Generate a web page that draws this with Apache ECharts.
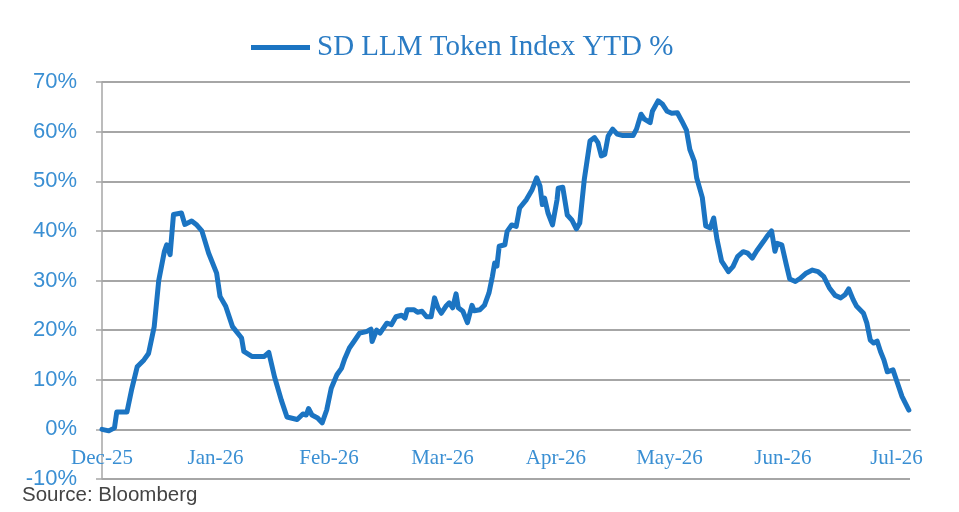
<!DOCTYPE html>
<html>
<head>
<meta charset="utf-8">
<script src="https://cdn.jsdelivr.net/npm/echarts@6/dist/echarts.min.js"></script>
<style>
  html, body { margin: 0; padding: 0; background: #ffffff; }
  #chart { width: 959px; height: 512px; }
</style>
</head>
<body>
<div id="chart"></div>
<script>
// X: months elapsed since the Dec-25 tick; Y: YTD % return
const monthLabels = ['Dec-25', 'Jan-26', 'Feb-26', 'Mar-26', 'Apr-26', 'May-26', 'Jun-26', 'Jul-26'];
const yTicks = [-10, 0, 10, 20, 30, 40, 50, 60, 70];
const seriesName = 'SD LLM Token Index YTD %';
const sourceNote = 'Source: Bloomberg';

const monthsElapsed = [
  0, 0.06, 0.11, 0.13, 0.22, 0.26, 0.31, 0.37, 0.41, 0.46,
  0.50, 0.55, 0.57, 0.60, 0.63, 0.70, 0.73, 0.79, 0.83, 0.88,
  0.94, 1.01, 1.04, 1.09, 1.15, 1.23, 1.25, 1.32, 1.43, 1.47,
  1.52, 1.58, 1.63, 1.72, 1.77, 1.80, 1.82, 1.85, 1.90, 1.94,
  1.98, 2.02, 2.07, 2.11, 2.14, 2.18, 2.22, 2.27, 2.33, 2.37,
  2.38, 2.42, 2.45, 2.51, 2.55, 2.59, 2.64, 2.67, 2.69, 2.75,
  2.78, 2.82, 2.86, 2.90, 2.93, 2.96, 2.99, 3.03, 3.06, 3.09,
  3.12, 3.14, 3.18, 3.22, 3.26, 3.28, 3.33, 3.37, 3.41, 3.44,
  3.46, 3.48, 3.50, 3.55, 3.57, 3.61, 3.65, 3.68, 3.74, 3.79,
  3.83, 3.86, 3.88, 3.90, 3.93, 3.97, 4.01, 4.02, 4.06, 4.10,
  4.14, 4.18, 4.21, 4.25, 4.30, 4.34, 4.37, 4.40, 4.43, 4.46,
  4.50, 4.54, 4.59, 4.68, 4.71, 4.75, 4.78, 4.83, 4.85, 4.90,
  4.94, 4.98, 5.02, 5.07, 5.11, 5.15, 5.18, 5.22, 5.24, 5.27,
  5.29, 5.32, 5.36, 5.39, 5.42, 5.46, 5.52, 5.56, 5.60, 5.65,
  5.69, 5.73, 5.77, 5.83, 5.86, 5.90, 5.93, 5.95, 5.99, 6.03,
  6.06, 6.11, 6.15, 6.20, 6.26, 6.31, 6.36, 6.41, 6.46, 6.51,
  6.55, 6.58, 6.62, 6.65, 6.71, 6.74, 6.77, 6.80, 6.83, 6.86,
  6.89, 6.92, 6.97, 7.01, 7.05, 7.11
];

const ytdPct = [
  0, -0.3, 0.3, 3.5, 3.5, 7.9, 12.6, 14.0, 15.3, 20.7,
  30.0, 35.9, 37.2, 35.2, 43.3, 43.6, 41.3, 42.0, 41.3, 40.0,
  35.5, 31.5, 26.8, 24.8, 20.7, 18.4, 15.7, 14.7, 14.7, 15.5,
  10.6, 5.9, 2.5, 2.0, 3.1, 2.9, 4.2, 2.9, 2.3, 1.3,
  3.9, 8.3, 11.0, 12.3, 14.3, 16.4, 17.7, 19.4, 19.7, 20.2,
  17.7, 20.0, 19.4, 21.4, 21.1, 22.7, 23.0, 22.4, 24.1, 24.1,
  23.6, 23.8, 22.7, 22.7, 26.5, 24.5, 23.4, 24.8, 25.5, 24.5,
  27.3, 24.5, 23.8, 21.5, 25.0, 23.9, 24.1, 25.0, 27.5, 30.8,
  33.5, 32.9, 36.9, 37.2, 39.9, 41.2, 40.9, 44.6, 46.3, 48.3,
  50.7, 49.0, 45.3, 46.6, 43.6, 41.2, 46.3, 48.6, 48.8, 43.2,
  42.2, 40.4, 41.6, 50.4, 58.1, 58.8, 57.8, 55.1, 55.4, 59.1,
  60.5, 59.5, 59.2, 59.2, 60.5, 63.5, 62.5, 61.8, 64.1, 66.2,
  65.5, 64.1, 63.7, 63.8, 62.1, 60.3, 56.4, 54.0, 50.7, 48.3,
  46.7, 41.0, 40.6, 42.6, 38.2, 33.9, 31.8, 32.8, 34.8, 35.8,
  35.5, 34.5, 36.0, 37.9, 38.9, 40.0, 35.9, 37.5, 37.2, 33.2,
  30.3, 29.8, 30.4, 31.4, 32.1, 31.8, 30.8, 28.5, 27.0, 26.5,
  27.2, 28.3, 26.1, 24.8, 23.4, 21.4, 18.0, 17.4, 17.8, 15.7,
  14.0, 11.6, 12.0, 9.3, 6.6, 3.9
];

const points = monthsElapsed.map((m, i) => [m, ytdPct[i]]);

const lineColor = '#1b74c2';
const labelBlue = '#3a8fd3';
const gridGray = '#a6a6a6';

const gridTop = 82, gridBottom = 33, chartHeight = 512;
const yMin = yTicks[0], yMax = yTicks[yTicks.length - 1];
// x axis sits on the 0% line: shift it up from the bottom edge by the axis scale
const plotHeight = chartHeight - gridTop - gridBottom;
const zeroOffset = -plotHeight * (0 - yMin) / (yMax - yMin);

const chart = echarts.init(document.getElementById('chart'), null, { renderer: 'canvas' });
chart.setOption({
  backgroundColor: '#ffffff',
  animation: false,
  grid: { left: 102, right: 49, top: gridTop, bottom: gridBottom, containLabel: false, outerBoundsMode: 'none' },
  legend: {
    show: true,
    data: [seriesName],
    left: 251,
    top: 33,
    padding: 0,
    itemWidth: 59,
    itemHeight: 14,
    itemGap: 10,
    icon: 'path://M0,0 L59,0 L59,5 L0,5 Z',
    textStyle: {
      fontFamily: '"Liberation Serif", "Times New Roman", serif',
      fontSize: 29,
      color: '#2b7cc4',
      padding: [0, 0, 0, 2]
    }
  },
  xAxis: {
    type: 'value',
    min: 0,
    max: 7.12,
    interval: 1,
    position: 'bottom',
    offset: zeroOffset,
    axisLine: { show: true, onZero: false, lineStyle: { color: gridGray, width: 2 } },
    axisTick: { show: false },
    splitLine: { show: false },
    axisLabel: {
      show: true,
      margin: 19,
      showMaxLabel: false,
      fontFamily: '"Liberation Serif", "Times New Roman", serif',
      fontSize: 21,
      color: labelBlue,
      formatter: function (v) {
        const r = Math.round(v);
        if (Math.abs(v - r) > 1e-6) return '';
        return monthLabels[r] !== undefined ? monthLabels[r] : '';
      }
    }
  },
  yAxis: {
    type: 'value',
    min: yMin,
    max: yMax,
    interval: 10,
    axisLine: { show: true, onZero: false, lineStyle: { color: gridGray, width: 1.5 } },
    axisTick: { show: true, inside: false, length: 6, lineStyle: { color: gridGray, width: 1.5 } },
    splitLine: { show: true, lineStyle: { color: gridGray, width: 2 } },
    axisLabel: {
      margin: 25,
      fontFamily: '"Liberation Sans", Arial, sans-serif',
      fontSize: 22,
      color: labelBlue,
      formatter: '{value}%'
    }
  },
  series: [{
    name: seriesName,
    type: 'line',
    data: points,
    showSymbol: false,
    symbol: 'none',
    smooth: false,
    lineStyle: { color: lineColor, width: 5, join: 'round', cap: 'round' },
    itemStyle: { color: lineColor },
    z: 5
  }],
  graphic: [{
    type: 'text',
    left: 22,
    top: 485,
    style: {
      text: sourceNote,
      fontFamily: '"Liberation Sans", Arial, sans-serif',
      fontSize: 20.5,
      fill: '#444444'
    }
  }]
});
</script>
</body>
</html>
